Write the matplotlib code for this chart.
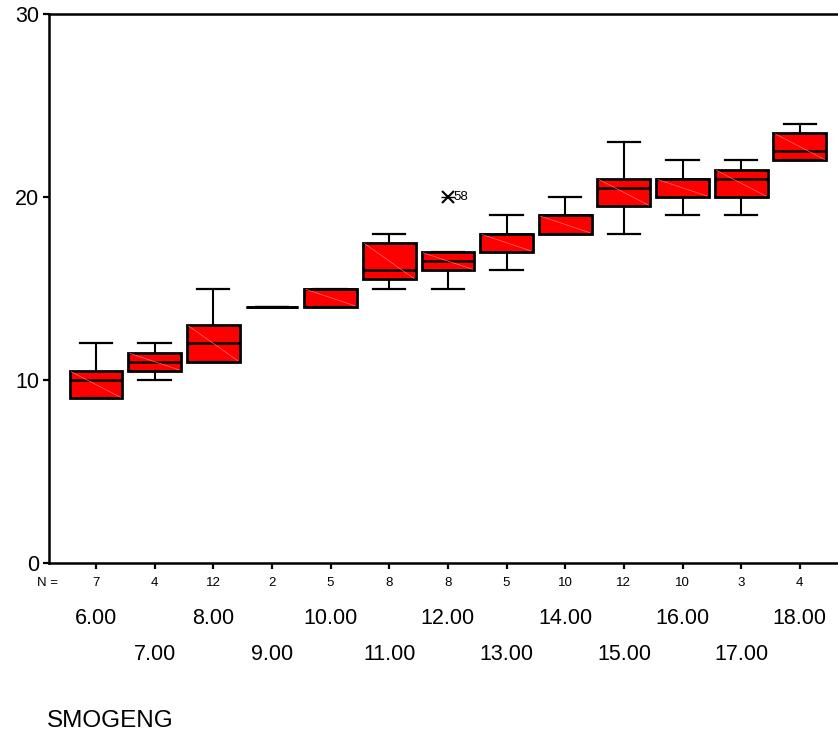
import matplotlib
matplotlib.use("Agg")
import matplotlib.pyplot as plt
from matplotlib.transforms import blended_transform_factory

plt.rcParams['font.family'] = ['Liberation Sans', 'DejaVu Sans']

# smog values by group
groups = ['6.00', '7.00', '8.00', '9.00', '10.00', '11.00', '12.00',
          '13.00', '14.00', '15.00', '16.00', '17.00', '18.00']
n_counts = [7, 4, 12, 2, 5, 8, 8, 5, 10, 12, 10, 3, 4]
whisker_lo = [9, 10, 11, 14, 14, 15, 15, 16, 18, 18, 19, 19, 22]
q1 = [9, 10.5, 11, 14, 14, 15.5, 16, 17, 18, 19.5, 20, 20, 22]
median = [10, 11, 12, 14, 15, 16, 16.5, 18, 19, 20.5, 21, 21, 22.5]
q3 = [10.5, 11.5, 13, 14, 15, 17.5, 17, 18, 19, 21, 21, 21.5, 23.5]
whisker_hi = [12, 12, 15, 14, 15, 18, 17, 19, 20, 23, 22, 22, 24]
# extreme value: group index, value, case label
extreme_group = [6]
extreme_value = [20]
extreme_label = ['58']

stats = []
for i in range(len(groups)):
    stats.append({'whislo': whisker_lo[i], 'q1': q1[i], 'med': median[i],
                  'q3': q3[i], 'whishi': whisker_hi[i], 'fliers': []})

fig = plt.figure(figsize=(8.38, 7.36), dpi=100)
ax = fig.add_axes([49 / 838, 1 - 563 / 736, 1 - 49 / 838, 549 / 736])

pos = list(range(len(groups)))
ax.bxp(stats, positions=pos, widths=0.9, capwidths=0.55, patch_artist=True,
       showfliers=False,
       boxprops=dict(facecolor='#ff0000', edgecolor='black', linewidth=2.0),
       medianprops=dict(color='black', linewidth=1.8),
       whiskerprops=dict(color='black', linewidth=1.5),
       capprops=dict(color='black', linewidth=1.6))

# faint diagonal across each box, like the original fill
for i in pos:
    if q3[i] > q1[i]:
        ax.plot([i - 0.42, i + 0.42], [q3[i] - 0.05, q1[i] + 0.05],
                color='#ff7070', linewidth=0.5, zorder=3)

# extreme values
for g, v, lab in zip(extreme_group, extreme_value, extreme_label):
    ax.plot(g, v, marker='x', color='black', markersize=8, mew=1.5)
    ax.plot(g, v, marker='_', color='black', markersize=10, mew=1.0)
    ax.text(g + 0.1, v, lab, fontsize=9.5, va='center', ha='left')

ax.set_xlim(-0.8, 12.65)
ax.set_ylim(0, 30)
ax.set_yticks([0, 10, 20, 30])
ax.tick_params(axis='y', labelsize=15.5, length=4, width=1.6, pad=3)
ax.set_xticks(pos)
ax.set_xticklabels([])
ax.tick_params(axis='x', length=4, width=1.6)
for s in ['left', 'top', 'bottom']:
    ax.spines[s].set_linewidth(1.8)
ax.spines['right'].set_visible(False)

trans = blended_transform_factory(ax.transData, fig.transFigure)
fig.text(47 / 838, 1 - 583 / 736, 'N =', fontsize=9.5, ha='center', va='center')
for i, n in enumerate(n_counts):
    ax.text(i, 1 - 583 / 736, str(n), transform=trans, fontsize=9.5,
            ha='center', va='center')
for i, g in enumerate(groups):
    y = 618 if i % 2 == 0 else 655
    ax.text(i, 1 - y / 736, g, transform=trans, fontsize=15.5,
            ha='center', va='center')

fig.text(47 / 838, 1 - 721 / 736, 'SMOGENG', fontsize=17.5, ha='left', va='center')

fig.savefig('out.png', dpi=100)
